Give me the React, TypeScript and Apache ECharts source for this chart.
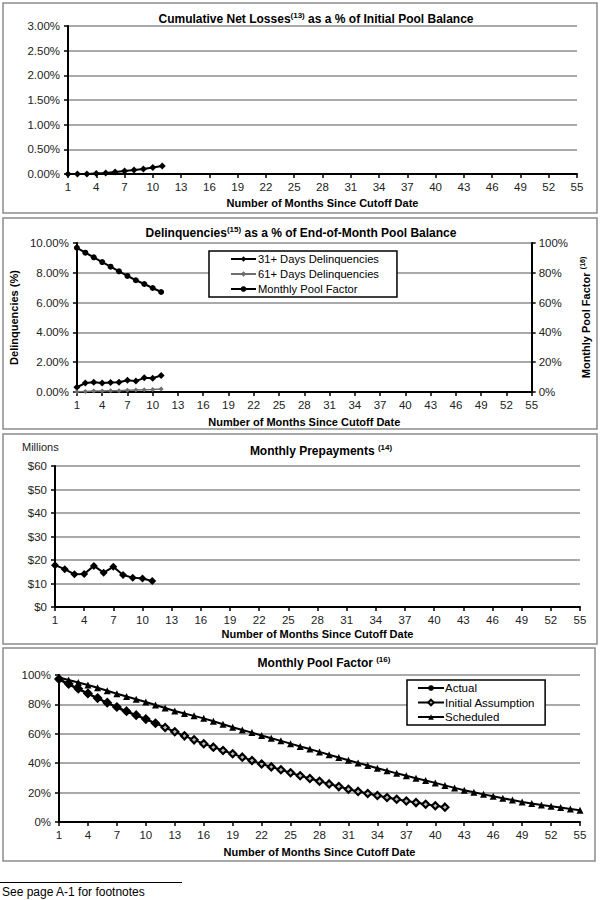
import React, { useEffect, useRef } from 'react';
import * as echarts from 'echarts';

const months = ['1','2','3','4','5','6','7','8','9','10','11','12','13','14','15','16','17','18','19','20','21','22','23','24','25','26','27','28','29','30','31','32','33','34','35','36','37','38','39','40','41','42','43','44','45','46','47','48','49','50','51','52','53','54','55'];

const netLossPct = [0.0, 0.0, 0.0, 0.01, 0.02, 0.04, 0.06, 0.08, 0.1, 0.13, 0.16];

const delinq31 = [0.32, 0.6, 0.65, 0.6, 0.64, 0.66, 0.79, 0.73, 0.95, 0.93, 1.11];
const delinq61 = [0.01, 0.04, 0.06, 0.07, 0.08, 0.09, 0.11, 0.13, 0.15, 0.17, 0.2];
const poolFactorActual = [96.8, 93.5, 90.4, 87.2, 84.1, 81.0, 77.9, 75.0, 72.5, 69.8, 67.1];

const prepaymentsMillions = [17.8, 16.1, 13.9, 14.0, 17.5, 14.6, 17.1, 13.6, 12.5, 12.1, 11.1];

const initialAssumption = [97.3, 94.0, 90.7, 87.5, 84.3, 81.2, 78.2, 75.4, 72.7, 70.0, 67.2, 64.3, 61.4, 58.6, 55.9, 53.2, 50.9, 48.6, 46.4, 44.1, 41.8, 39.5, 37.5, 35.5, 33.5, 31.5, 29.6, 27.7, 25.9, 24.1, 22.3, 20.8, 19.4, 18.0, 16.7, 15.5, 14.3, 13.2, 12.1, 11.1, 10.1];

const scheduled = [98.3, 96.6, 94.9, 93.2, 91.3, 89.3, 87.3, 85.4, 83.5, 81.6, 79.6, 77.5, 75.5, 73.8, 72.2, 70.5, 68.5, 66.5, 64.5, 62.6, 60.8, 58.9, 57.0, 55.2, 53.3, 51.4, 49.6, 47.7, 45.8, 43.9, 42.0, 40.2, 38.4, 36.6, 34.9, 33.1, 31.4, 29.8, 28.2, 26.6, 24.9, 23.2, 21.6, 20.2, 18.8, 17.5, 16.2, 14.9, 13.6, 12.6, 11.6, 10.7, 9.8, 8.9, 8.0];

const FONT = '"Liberation Sans", Arial, sans-serif';

const xAxisFor = (gridIndex: number, nameGap: number) => ({
  type: 'category',
  gridIndex,
  data: months,
  boundaryGap: false,
  axisLine: { show: true, lineStyle: { color: '#000', width: 2 } },
  axisTick: { show: true, interval: 2, length: 4, lineStyle: { color: '#000', width: 1.5 } },
  axisLabel: { interval: 2, color: '#222', fontSize: 11.5, fontFamily: FONT, margin: 7 },
  splitLine: { show: false },
  name: 'Number of Months Since Cutoff Date',
  nameLocation: 'middle',
  nameGap,
  nameTextStyle: { fontWeight: 'bold', fontSize: 11, color: '#000', fontFamily: FONT },
});

const yAxisFor = (gridIndex: number, max: number, interval: number, formatter: (v: number) => string) => ({
  type: 'value',
  gridIndex,
  min: 0,
  max,
  interval,
  axisLine: { show: true, lineStyle: { color: '#000', width: 2 } },
  axisTick: { show: true, length: 4, lineStyle: { color: '#000', width: 1.5 } },
  axisLabel: { formatter, color: '#222', fontSize: 11.5, fontFamily: FONT, margin: 8 },
  splitLine: { show: true, lineStyle: { color: '#8c8c8c', width: 1.5 } },
});

const titleRich = {
  a: { fontSize: 12, fontWeight: 'bold', fontFamily: FONT, color: '#000', lineHeight: 15 },
  s: { fontSize: 8, fontWeight: 'bold', fontFamily: FONT, color: '#000', verticalAlign: 'top', lineHeight: 15 },
};

const titleText = (x: number, y: number, text: string) => ({
  type: 'text',
  x,
  y,
  silent: true,
  style: { text, rich: titleRich, textAlign: 'center', textVerticalAlign: 'middle' },
});

const panelRect = (x: number, y: number, w: number, h: number) => ({
  type: 'rect',
  silent: true,
  shape: { x, y, width: w, height: h },
  style: { fill: 'none', stroke: '#8c8c8c', lineWidth: 1.5 },
});

const lineSeries = (extra: any) => ({
  type: 'line',
  showSymbol: true,
  showAllSymbol: true,
  ...extra,
});

export default function App() {
  const ref = useRef<HTMLDivElement>(null);

  useEffect(() => {
    if (!ref.current) return;
    const chart = echarts.init(ref.current, undefined, { renderer: 'svg' });
    const pct2 = (v: number) => v.toFixed(2) + '%';
    const pct0 = (v: number) => v + '%';
    const dollars = (v: number) => '$' + v;

    const rightAxis: any = {
      type: 'value',
      gridIndex: 1,
      position: 'right',
      min: 0,
      max: 100,
      interval: 20,
      axisLine: { show: true, lineStyle: { color: '#000', width: 2 } },
      axisTick: { show: true, length: 4, lineStyle: { color: '#000', width: 1.5 } },
      axisLabel: { formatter: pct0, color: '#222', fontSize: 11.5, fontFamily: FONT, margin: 7 },
      splitLine: { show: false },
      name: '{a|Monthly Pool Factor} {s|(16)}',
      nameLocation: 'middle',
      nameGap: 40,
      nameRotate: 90,
      nameTextStyle: {
        rich: {
          a: { fontSize: 11, fontWeight: 'bold', fontFamily: FONT, color: '#000', lineHeight: 14 },
          s: { fontSize: 7, fontWeight: 'bold', fontFamily: FONT, color: '#000', verticalAlign: 'top', lineHeight: 14 },
        },
      },
    };

    const leftDelinq: any = {
      ...yAxisFor(1, 10, 2, pct2),
      name: 'Delinquencies (%)',
      nameLocation: 'middle',
      nameGap: 51,
      nameRotate: 90,
      nameTextStyle: { fontWeight: 'bold', fontSize: 11, color: '#000', fontFamily: FONT },
    };

    const option: any = {
      animation: false,
      backgroundColor: '#fff',
      textStyle: { fontFamily: FONT },
      grid: [
        { left: 68, top: 26, width: 509, height: 148, containLabel: false },
        { left: 71, top: 243, width: 466, height: 149, containLabel: false },
        { left: 55, top: 466, width: 525, height: 141, containLabel: false },
        { left: 59, top: 675, width: 521, height: 147, containLabel: false },
      ],
      xAxis: [xAxisFor(0, 23), xAxisFor(1, 24), xAxisFor(2, 21), xAxisFor(3, 24)],
      yAxis: [
        yAxisFor(0, 3, 0.5, pct2),
        leftDelinq,
        rightAxis,
        yAxisFor(2, 60, 10, dollars),
        yAxisFor(3, 100, 20, pct0),
      ],
      legend: [
        {
          data: ['31+ Days Delinquencies', '61+ Days Delinquencies', 'Monthly Pool Factor'],
          orient: 'vertical',
          left: 209,
          top: 251,
          itemWidth: 25,
          itemHeight: 7,
          itemGap: 1,
          padding: [1, 18, 1, 21],
          borderColor: '#000',
          borderWidth: 1.5,
          backgroundColor: '#fff',
          selectedMode: false,
          textStyle: { fontSize: 11.2, fontFamily: FONT, color: '#000', lineHeight: 14, padding: [0, 0, 0, -3] },
        },
        {
          data: ['Actual', 'Initial Assumption', 'Scheduled'],
          orient: 'vertical',
          left: 407,
          top: 680,
          itemWidth: 26,
          itemHeight: 7,
          itemGap: 0.5,
          padding: [1, 10, 1, 10],
          borderColor: '#000',
          borderWidth: 1.5,
          backgroundColor: '#fff',
          selectedMode: false,
          textStyle: { fontSize: 11.5, fontFamily: FONT, color: '#000', lineHeight: 14, padding: [0, 0, 0, -4] },
        },
      ],
      series: [
        lineSeries({
          name: 'Cumulative Net Losses',
          xAxisIndex: 0,
          yAxisIndex: 0,
          data: netLossPct,
          symbol: 'diamond',
          symbolSize: 7,
          lineStyle: { color: '#000', width: 2 },
          itemStyle: { color: '#000' },
        }),
        lineSeries({
          name: '31+ Days Delinquencies',
          xAxisIndex: 1,
          yAxisIndex: 1,
          data: delinq31,
          symbol: 'diamond',
          symbolSize: 7,
          lineStyle: { color: '#000', width: 2 },
          itemStyle: { color: '#000' },
        }),
        lineSeries({
          name: '61+ Days Delinquencies',
          xAxisIndex: 1,
          yAxisIndex: 1,
          data: delinq61,
          symbol: 'diamond',
          symbolSize: 5,
          lineStyle: { color: '#6e6e6e', width: 1.5 },
          itemStyle: { color: '#6e6e6e' },
        }),
        lineSeries({
          name: 'Monthly Pool Factor',
          xAxisIndex: 1,
          yAxisIndex: 2,
          data: poolFactorActual,
          symbol: 'circle',
          symbolSize: 6,
          lineStyle: { color: '#000', width: 2 },
          itemStyle: { color: '#000' },
        }),
        lineSeries({
          name: 'Monthly Prepayments',
          xAxisIndex: 2,
          yAxisIndex: 3,
          data: prepaymentsMillions,
          symbol: 'diamond',
          symbolSize: 8,
          lineStyle: { color: '#000', width: 2 },
          itemStyle: { color: '#000' },
        }),
        lineSeries({
          name: 'Scheduled',
          xAxisIndex: 3,
          yAxisIndex: 4,
          data: scheduled,
          symbol: 'triangle',
          symbolSize: 7,
          lineStyle: { color: '#000', width: 2 },
          itemStyle: { color: '#000' },
        }),
        lineSeries({
          name: 'Initial Assumption',
          xAxisIndex: 3,
          yAxisIndex: 4,
          data: initialAssumption,
          symbol: 'diamond',
          symbolSize: 7,
          lineStyle: { color: '#000', width: 2 },
          itemStyle: { color: '#bbb', borderColor: '#000', borderWidth: 2.2 },
        }),
        lineSeries({
          name: 'Actual',
          xAxisIndex: 3,
          yAxisIndex: 4,
          data: poolFactorActual,
          symbol: 'circle',
          symbolSize: 6,
          z: 5,
          lineStyle: { color: '#000', width: 2 },
          itemStyle: { color: '#000' },
        }),
      ],
      graphic: [
        panelRect(3, 3, 594, 210),
        panelRect(3, 218, 594, 211),
        panelRect(3, 434, 594, 210),
        panelRect(3, 648, 592, 213),
        titleText(316, 19, '{a|Cumulative Net Losses}{s|(13)}{a| as a % of Initial Pool Balance}'),
        titleText(301, 233, '{a|Delinquencies}{s|(15)}{a| as a % of End-of-Month Pool Balance}'),
        titleText(321, 451, '{a|Monthly Prepayments }{s|(14)}'),
        titleText(324, 663, '{a|Monthly Pool Factor }{s|(16)}'),
        {
          type: 'text',
          x: 22,
          y: 447,
          silent: true,
          style: { text: 'Millions', fontSize: 11, fontFamily: FONT, fill: '#222', textAlign: 'left', textVerticalAlign: 'middle' },
        },
        {
          type: 'line',
          silent: true,
          shape: { x1: 0, y1: 882.5, x2: 182, y2: 882.5 },
          style: { stroke: '#000', lineWidth: 1 },
        },
        {
          type: 'text',
          x: 2,
          y: 892,
          silent: true,
          style: { text: 'See page A-1 for footnotes', fontSize: 12, fontFamily: FONT, fill: '#000', textAlign: 'left', textVerticalAlign: 'middle' },
        },
      ],
    };

    chart.setOption(option);
    return () => {
      chart.dispose();
    };
  }, []);

  return (
    <div
      ref={ref}
      style={{ position: 'absolute', left: 0, top: 0, width: 600, height: 900, background: '#fff' }}
    />
  );
}
